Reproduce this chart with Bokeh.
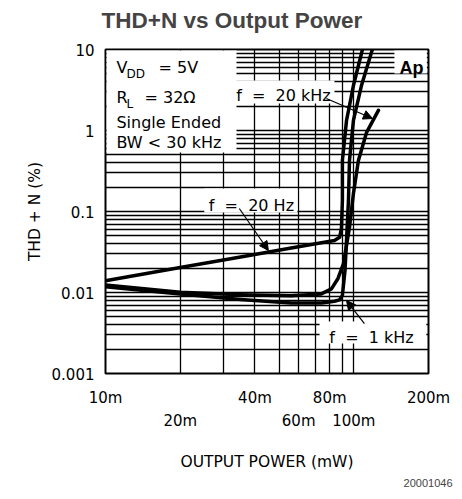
from bokeh.plotting import figure
from bokeh.models import (FixedTicker, LogAxis, CustomJSTickFormatter, Label, BoxAnnotation,
                          Arrow, NormalHead, Title)
from bokeh.embed import file_html
from bokeh.resources import INLINE

# ---- data (output power in mW, THD+N in %) ----
p_20hz = [10, 20, 35, 56, 83.6, 87.7, 89.2, 90.0, 90.0, 93.5, 99.7, 108.4]
thd_20hz = [0.014, 0.0203, 0.0275, 0.0354, 0.0438, 0.048, 0.062, 0.137, 0.427, 1.33, 3.59, 10]

p_1khz = [10, 20, 35, 56, 74, 83.6, 87.7, 90.0, 92.2, 93.5, 95.2, 96.1, 99.7, 107.4, 118.8]
thd_1khz = [0.0118, 0.0096, 0.0082, 0.0074, 0.0074, 0.0078, 0.0081, 0.0092, 0.0187, 0.0438,
            0.137, 0.427, 1.33, 3.59, 10]

p_20khz = [10, 20, 35, 56, 74, 81.3, 86.4, 90.9, 96.1, 99.7, 104.4, 112.5, 125.7]
thd_20khz = [0.0124, 0.0101, 0.0094, 0.0091, 0.0096, 0.0111, 0.0149, 0.0228, 0.0634, 0.167,
             0.427, 0.94, 1.77]

x_ticks_row1 = [10, 40, 80, 200]
x_ticks_row2 = [20, 60, 100]
y_ticks = [0.001, 0.01, 0.1, 1, 10]
x_grid = [20, 30, 40, 50, 60, 70, 80, 90, 100]
y_grid = [m * 10.0 ** e for e in range(-3, 1) for m in range(1, 10)][1:]

FONT = "DejaVu Sans"
NB = "\u00a0"

p = figure(x_axis_type="log", y_axis_type="log", x_range=(10, 200), y_range=(0.001, 10),
           frame_width=323, frame_height=324, min_border_left=105, min_border_right=30,
           min_border_top=49, min_border_bottom=120,
           output_backend="svg", toolbar_location=None, background_fill_color="white")

p.title.text = "THD+N vs Output Power"
p.title.align = "left"
p.title.offset = -4
p.title.text_font = "Liberation Sans"
p.title.text_font_size = "22.5px"
p.title.text_font_style = "bold"
p.title.vertical_align = "top"
p.title.standoff = 14

# spacer between title and frame
p.add_layout(Title(text=" ", text_font_size="1px", standoff=5), "above")

p.outline_line_color = "black"
p.outline_line_width = 2
p.outline_line_alpha = 1

# grids
p.xgrid.ticker = FixedTicker(ticks=x_grid)
p.ygrid.ticker = FixedTicker(ticks=y_grid)
for g in (p.xgrid, p.ygrid):
    g.grid_line_color = "black"
    g.grid_line_width = 1.3
    g.grid_line_alpha = 1

# y axis
ya = p.yaxis[0]
ya.ticker = FixedTicker(ticks=y_ticks)
ya.formatter = CustomJSTickFormatter(code="return tick.toString()")
ya.axis_line_color = None
ya.major_tick_line_color = None
ya.minor_tick_line_color = None
ya.major_label_standoff = 5
ya.major_label_text_font = FONT
ya.major_label_text_font_size = "15px"
ya.major_label_text_color = "black"
ya.axis_label = "THD + N (%)"
ya.axis_label_text_font = FONT
ya.axis_label_text_font_size = "15.5px"
ya.axis_label_text_font_style = "normal"
ya.axis_label_text_color = "black"
ya.axis_label_standoff = 5

# x axis rows
def style_x(ax):
    ax.axis_line_color = None
    ax.major_tick_line_color = None
    ax.minor_tick_line_color = None
    ax.major_tick_out = 0
    ax.major_label_text_font = FONT
    ax.major_label_text_font_size = "15px"
    ax.major_label_text_color = "black"
    ax.formatter = CustomJSTickFormatter(code="return tick.toString() + 'm'")

xa = p.xaxis[0]
xa.ticker = FixedTicker(ticks=x_ticks_row1)
style_x(xa)
xa.major_label_standoff = 15

xa2 = LogAxis(ticker=FixedTicker(ticks=x_ticks_row2))
style_x(xa2)
xa2.major_label_standoff = 2
xa2.axis_label = "OUTPUT POWER (mW)"
xa2.axis_label_text_font = FONT
xa2.axis_label_text_font_size = "15.5px"
xa2.axis_label_text_font_style = "normal"
xa2.axis_label_text_color = "black"
xa2.axis_label_standoff = 20
p.add_layout(xa2, "below")

foot = Title(text="20001046", align="right", text_font="Liberation Sans",
             text_font_size="11px", text_font_style="normal", offset=-24, standoff=6)
p.add_layout(foot, "below")

# curves
for xs, ys in ((p_20hz, thd_20hz), (p_1khz, thd_1khz), (p_20khz, thd_20khz)):
    p.line(xs, ys, line_color="black", line_width=3.5, line_join="round", line_cap="round")

# white label boxes
boxes = [
    dict(left=10.1, right=33.7, top=9.7, bottom=0.535),
    dict(left=31.6, right=83.6, top=4.14, bottom=2.154),
    dict(left=25.0, right=59.3, top=0.1923, bottom=0.0972),
    dict(left=72.8, right=196.0, top=0.00438, bottom=0.00234),
    dict(left=145.8, right=197.0, top=9.7, bottom=5.05),
]
for b in boxes:
    p.add_layout(BoxAnnotation(fill_color="white", fill_alpha=1, line_color=None, **b))

def lab(x, y, text, size="16px", align="left", font=FONT, style="normal"):
    p.add_layout(Label(x=x, y=y, text=text, text_font=font, text_font_size=size,
                       text_align=align, text_baseline="alphabetic", text_color="black",
                       text_font_style=style))

lab(11.07, 5.99, "V")
lab(12.15, 5.05, "DD", size="12px")
lab(16.35, 5.99, "= 5V")
lab(11.07, 2.556, "R")
lab(12.15, 2.154, "L", size="12px")
lab(14.36, 2.556, "= 32Ω")
lab(11.07, 1.255, "Single Ended")
lab(11.07, 0.711, "BW < 30 kHz")
lab(52.1, 2.70, "f" + NB + " =" + NB + " 20 kHz", align="center")
lab(38.7, 0.1186, "f" + NB + " =" + NB + " 20 Hz", align="center")
lab(117.9, 0.00278, "f" + NB + " =" + NB + " 1 kHz", align="center")
lab(170.8, 5.83, "Ap", size="18px", align="center", font="Liberation Sans", style="bold")

def arrow(x0, y0, x1, y1):
    p.add_layout(Arrow(end=NormalHead(size=9, fill_color="black", line_color="black"),
                       x_start=x0, y_start=y0, x_end=x1, y_end=y1,
                       line_color="black", line_width=1.2))

arrow(77.6, 2.48, 118.9, 1.406)
arrow(34.6, 0.1089, 45.3, 0.0330)
arrow(110.4, 0.00414, 93.5, 0.00796)

open("out.html", "w").write(file_html(p, INLINE))
